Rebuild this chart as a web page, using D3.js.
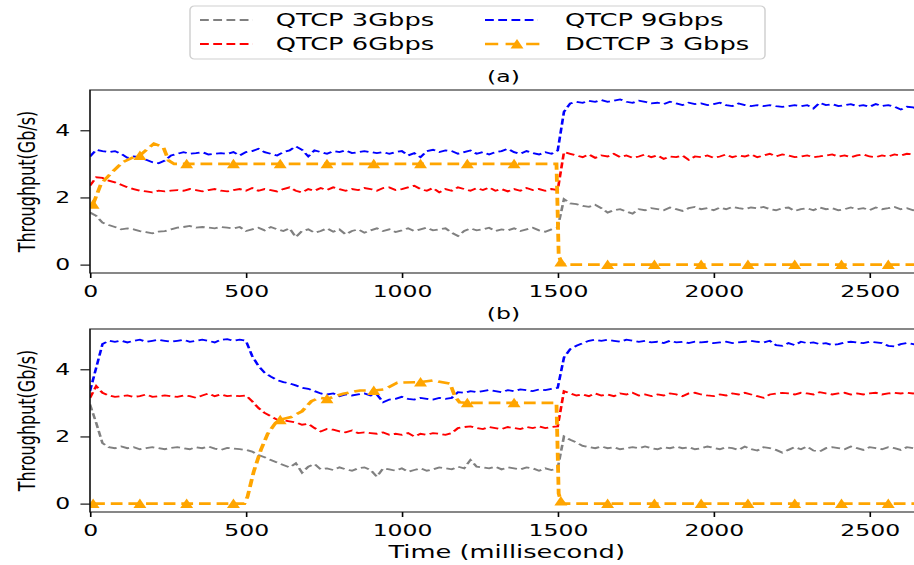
<!DOCTYPE html>
<html lang="en">
<head>
<meta charset="UTF-8">
<title>QTCP vs DCTCP throughput</title>
<style>
  body { margin: 0; background: #fff; }
  svg text { font-family: "DejaVu Sans", sans-serif; fill: #000; }
</style>
</head>
<body>
<div id="chart"></div>
<script src="https://d3js.org/d3.v7.min.js"></script>
<script>
// ---- data (throughput in Gb/s, QTCP sampled every 20 ms from 0 to 2660) ----
const sampleStep = 20;
const xTicks = [0, 500, 1000, 1500, 2000, 2500];
const yTicks = [0, 2, 4];
const seriesNames = ["QTCP 3Gbps", "QTCP 6Gbps", "QTCP 9Gbps", "DCTCP 3 Gbps"];
const seriesColors = ["#808080", "#ff0000", "#0000ff", "#ffa500"];

// panel (a)
const aGray = [
  1.55,1.45,1.25,1.18,1.12,1.05,1.08,1.05,1.00,0.97,
  0.93,0.98,1.00,1.05,1.10,1.12,1.15,1.10,1.12,1.10,
  1.08,1.12,1.10,1.08,1.12,1.00,1.05,1.10,1.02,1.12,
  1.05,1.00,1.08,0.82,1.00,1.05,0.95,1.00,1.08,0.98,
  1.05,0.90,1.00,1.05,0.95,1.02,1.08,1.00,1.05,0.97,
  1.02,1.08,1.00,1.05,1.10,1.02,1.05,1.08,0.95,0.85,
  1.00,1.08,1.02,1.05,1.10,1.00,1.05,1.02,1.08,1.00,
  1.05,1.10,1.02,0.98,1.05,1.10,1.95,1.82,1.80,1.75,
  1.72,1.78,1.68,1.55,1.62,1.65,1.58,1.52,1.65,1.62,
  1.68,1.65,1.62,1.70,1.65,1.60,1.68,1.72,1.65,1.68,
  1.62,1.70,1.65,1.72,1.68,1.65,1.70,1.68,1.72,1.65,
  1.62,1.68,1.70,1.60,1.65,1.68,1.62,1.70,1.65,1.68,
  1.62,1.65,1.70,1.65,1.68,1.62,1.70,1.65,1.68,1.72,
  1.65,1.68,1.62,1.65
];
const aRed = [
  2.35,2.60,2.58,2.50,2.45,2.38,2.30,2.25,2.20,2.18,
  2.15,2.20,2.18,2.20,2.22,2.20,2.25,2.22,2.18,2.22,
  2.25,2.20,2.18,2.22,2.25,2.20,2.28,2.20,2.25,2.22,
  2.18,2.25,2.30,2.20,2.15,2.25,2.20,2.28,2.22,2.30,
  2.25,2.20,2.25,2.22,2.28,2.25,2.20,2.28,2.30,2.22,
  2.25,2.30,2.35,2.25,2.20,2.28,2.15,2.25,2.20,2.30,
  2.25,2.20,2.28,2.22,2.30,2.20,2.25,2.18,2.25,2.20,
  2.28,2.22,2.25,2.20,2.25,2.22,3.35,3.30,3.25,3.20,
  3.28,3.18,3.25,3.22,3.30,3.20,3.25,3.18,3.22,3.28,
  3.20,3.25,3.15,3.22,3.20,3.25,3.12,3.22,3.20,3.25,
  3.18,3.22,3.28,3.20,3.25,3.22,3.28,3.20,3.25,3.30,
  3.22,3.28,3.25,3.20,3.22,3.25,3.20,3.22,3.25,3.28,
  3.22,3.25,3.20,3.25,3.28,3.22,3.20,3.25,3.22,3.28,
  3.25,3.30,3.28,3.30
];
const aBlue = [
  3.22,3.42,3.38,3.35,3.38,3.30,3.18,3.22,3.20,3.12,
  3.05,3.02,3.10,3.25,3.30,3.35,3.30,3.32,3.35,3.28,
  3.30,3.32,3.30,3.35,3.25,3.35,3.38,3.45,3.35,3.30,
  3.25,3.35,3.40,3.52,3.42,3.22,3.40,3.35,3.30,3.38,
  3.35,3.40,3.32,3.35,3.38,3.35,3.32,3.35,3.30,3.35,
  3.38,3.25,3.32,3.20,3.38,3.42,3.35,3.40,3.38,3.30,
  3.35,3.40,3.30,3.35,3.28,3.35,3.38,3.45,3.35,3.30,
  3.38,3.32,3.28,3.35,3.30,3.40,4.55,4.80,4.85,4.82,
  4.88,4.85,4.90,4.85,4.88,4.92,4.85,4.82,4.88,4.85,
  4.80,4.82,4.78,4.85,4.80,4.75,4.82,4.78,4.80,4.75,
  4.78,4.82,4.75,4.72,4.80,4.75,4.72,4.75,4.72,4.75,
  4.72,4.70,4.72,4.75,4.72,4.75,4.65,4.82,4.75,4.78,
  4.72,4.75,4.78,4.72,4.75,4.70,4.78,4.72,4.75,4.70,
  4.62,4.70,4.68,4.62
];
const aDcTime = [10, 35, 65, 105, 140, 160, 185, 205, 235, 252, 270, 310, 460, 610, 760, 910, 1060, 1210, 1360,
  1496, 1503, 1510, 1522, 1660, 1810, 1960, 2110, 2260, 2410, 2560, 2680];
const aDcVal = [1.80, 2.40, 2.70, 3.05, 3.20, 3.25, 3.45, 3.60, 3.50, 3.10, 3.00, 3.00, 3.00, 3.00, 3.00, 3.00, 3.00, 3.00, 3.00,
  3.00, 0.30, 0.08, 0.00, 0.00, 0.00, 0.00, 0.00, 0.00, 0.00, 0.00, 0.00];
const aDcMarks = [0, 5, 11, 12, 13, 14, 15, 16, 17, 18, 21, 23, 24, 25, 26, 27, 28, 29];

// panel (b)
const bGray = [
  2.95,2.40,1.80,1.68,1.65,1.70,1.65,1.68,1.62,1.65,
  1.68,1.65,1.62,1.66,1.68,1.65,1.62,1.68,1.65,1.70,
  1.64,1.60,1.66,1.64,1.62,1.60,1.55,1.45,1.38,1.30,
  1.22,1.15,1.08,1.20,0.92,1.10,1.18,1.02,1.05,1.00,
  1.08,1.02,0.98,1.05,1.08,1.00,0.80,1.05,1.02,0.98,
  1.05,0.95,1.00,1.05,0.98,1.02,1.08,1.05,1.02,1.10,
  1.05,1.30,1.10,1.08,1.05,1.10,1.02,1.08,1.05,1.02,
  1.08,1.05,0.98,1.05,1.00,1.05,2.00,1.90,1.82,1.72,
  1.68,1.65,1.70,1.65,1.68,1.62,1.65,1.68,1.65,1.70,
  1.65,1.62,1.68,1.65,1.70,1.65,1.68,1.62,1.65,1.70,
  1.66,1.62,1.68,1.65,1.60,1.70,1.62,1.58,1.68,1.65,
  1.60,1.52,1.60,1.68,1.62,1.70,1.58,1.55,1.65,1.68,
  1.65,1.62,1.70,1.65,1.60,1.68,1.65,1.62,1.68,1.65,
  1.60,1.68,1.65,1.62
];
const bRed = [
  3.15,3.50,3.30,3.22,3.18,3.20,3.22,3.18,3.20,3.25,
  3.18,3.20,3.22,3.20,3.18,3.22,3.20,3.15,3.22,3.28,
  3.20,3.25,3.20,3.22,3.20,3.22,3.05,2.85,2.70,2.60,
  2.50,2.48,2.45,2.42,2.35,2.38,2.25,2.15,2.22,2.20,
  2.15,2.12,2.18,2.10,2.12,2.10,2.08,2.12,2.05,2.08,
  2.05,2.10,2.00,2.08,2.05,2.10,2.08,2.05,2.10,2.25,
  2.28,2.30,2.25,2.22,2.28,2.25,2.22,2.28,2.25,2.22,
  2.28,2.25,2.30,2.25,2.28,2.30,3.35,3.28,3.22,3.25,
  3.20,3.28,3.22,3.25,3.20,3.28,3.25,3.30,3.22,3.25,
  3.20,3.25,3.22,3.28,3.25,3.20,3.28,3.30,3.25,3.22,
  3.20,3.25,3.22,3.28,3.25,3.30,3.25,3.20,3.15,3.25,
  3.28,3.30,3.28,3.25,3.30,3.28,3.25,3.32,3.28,3.25,
  3.28,3.30,3.25,3.28,3.25,3.28,3.30,3.25,3.28,3.30,
  3.28,3.30,3.28,3.30
];
const bBlue = [
  3.35,4.05,4.75,4.85,4.82,4.85,4.80,4.85,4.88,4.82,
  4.85,4.88,4.85,4.82,4.85,4.88,4.82,4.85,4.88,4.85,
  4.80,4.88,4.90,4.85,4.88,4.85,4.40,4.10,3.90,3.78,
  3.68,3.62,3.58,3.52,3.45,3.42,3.35,3.28,3.25,3.28,
  3.20,3.25,3.22,3.25,3.28,3.22,3.25,3.02,3.10,3.12,
  3.18,3.12,3.10,3.15,3.12,3.10,3.15,3.12,3.15,3.32,
  3.30,3.35,3.32,3.35,3.38,3.35,3.32,3.38,3.35,3.40,
  3.38,3.35,3.40,3.38,3.42,3.45,4.35,4.60,4.70,4.78,
  4.85,4.88,4.85,4.88,4.85,4.82,4.88,4.85,4.82,4.85,
  4.80,4.82,4.78,4.85,4.80,4.82,4.78,4.82,4.80,4.82,
  4.78,4.80,4.82,4.78,4.80,4.82,4.85,4.82,4.80,4.85,
  4.72,4.70,4.78,4.72,4.82,4.78,4.80,4.75,4.78,4.72,
  4.75,4.80,4.82,4.80,4.78,4.82,4.80,4.78,4.70,4.68,
  4.75,4.78,4.75,4.72
];
const bDcTime = [10, 160, 310, 460, 495, 505, 525, 548, 570, 595, 610, 645, 680, 710, 735, 760, 812, 866, 910, 945, 985,
  1060, 1100, 1155, 1170, 1185, 1210, 1360, 1496, 1503, 1510, 1522, 1660, 1810, 1960, 2110, 2260, 2410, 2560, 2680];
const bDcVal = [0.00, 0.00, 0.00, 0.00, 0.00, 0.20, 0.95, 1.60, 2.08, 2.40, 2.50, 2.58, 2.75, 3.05, 3.15, 3.12, 3.27, 3.37, 3.37, 3.40, 3.60,
  3.62, 3.67, 3.57, 3.20, 3.02, 3.00, 3.00, 3.00, 0.30, 0.08, 0.00, 0.00, 0.00, 0.00, 0.00, 0.00, 0.00, 0.00, 0.00];
const bDcMarks = [0, 1, 2, 3, 10, 15, 18, 21, 26, 27, 30, 32, 33, 34, 35, 36, 37, 38];

// ---- layout ----
// the reference picture is stretched sideways, so everything is drawn in a
// narrower space and scaled back out horizontally
const S = 1.47;
const vx = px => px / S;
const W = 914, H = 565;
const plotLeft = 90, plotRight = 921;

const panels = [
  { top: 90, bottom: 273, tag: "(a)", tagY: 76,
    gray: aGray, red: aRed, blue: aBlue, dcT: aDcTime, dcV: aDcVal, dcM: aDcMarks },
  { top: 329, bottom: 512, tag: "(b)", tagY: 313,
    gray: bGray, red: bRed, blue: bBlue, dcT: bDcTime, dcV: bDcVal, dcM: bDcMarks }
];

const svg = d3.select("#chart").append("svg")
  .attr("width", W).attr("height", H);
const root = svg.append("g").attr("transform", `scale(${S},1)`);

const x = d3.scaleLinear().domain([0, 2665]).range([vx(plotLeft), vx(plotRight)]);
const tri = "M0,-5 L4.4,4.5 L-4.4,4.5 Z";

panels.forEach((p, pi) => {
  const y = d3.scaleLinear().domain([-0.25, 5.2]).range([p.bottom, p.top]);
  const g = root.append("g");

  g.append("clipPath").attr("id", "clip" + pi)
    .append("rect")
      .attr("x", x(0)).attr("y", p.top)
      .attr("width", x(2665) - x(0)).attr("height", p.bottom - p.top);

  // axes
  const xa = g.append("g")
    .attr("transform", `translate(0,${p.bottom})`)
    .call(d3.axisBottom(x).tickValues(xTicks).tickFormat(d3.format("d"))
      .tickSize(5).tickPadding(8));
  const ya = g.append("g")
    .attr("transform", `translate(${x(0)},0)`)
    .call(d3.axisLeft(y).tickValues(yTicks).tickFormat(d3.format("d"))
      .tickSize(6.5).tickPadding(7));
  [xa, ya].forEach(a => {
    a.select(".domain").remove();
    a.selectAll("line").attr("stroke", "#000").attr("stroke-width", 1.1);
    a.selectAll("text").attr("font-size", 16).attr("fill", "#111");
  });

  // y label
  g.append("text")
    .attr("transform", `translate(${vx(26.5)},${(p.top + p.bottom) / 2}) rotate(-90)`)
    .attr("text-anchor", "middle").attr("dy", "0.35em")
    .attr("font-size", 16)
    .text("Throughput(Gb/s)");

  // panel tag
  g.append("text")
    .attr("x", vx(503.5)).attr("y", p.tagY).attr("dy", "0.35em")
    .attr("text-anchor", "middle").attr("font-size", 16)
    .text(p.tag);

  // lines
  const plot = g.append("g").attr("clip-path", `url(#clip${pi})`);
  const line = d3.line().x(d => x(d[0])).y(d => y(d[1]));
  [p.gray, p.red, p.blue].forEach((vals, si) => {
    const pts = vals.map((v, i) => [i * sampleStep, v]);
    plot.append("path")
      .attr("d", line(pts))
      .attr("fill", "none")
      .attr("stroke", seriesColors[si])
      .attr("stroke-width", 1.8)
      .attr("stroke-dasharray", "6,3");
  });

  const dcPts = p.dcT.map((t, i) => [t, p.dcV[i]]);
  plot.append("path")
    .attr("d", line(dcPts))
    .attr("fill", "none")
    .attr("stroke", seriesColors[3])
    .attr("stroke-width", 2.6)
    .attr("stroke-dasharray", "8,4");
  plot.selectAll(".mk")
    .data(p.dcM.map(i => dcPts[i]))
    .join("path")
      .attr("class", "mk")
      .attr("d", tri)
      .attr("transform", d => `translate(${x(d[0])},${y(d[1])})`)
      .attr("fill", seriesColors[3]);

  // frame
  g.append("path")
    .attr("d", `M${x(2665)},${p.top} H${x(0)} V${p.bottom} H${x(2665)}`)
    .attr("fill", "none").attr("stroke", "#111").attr("stroke-width", 1.1);
});

// x label
root.append("text")
  .attr("x", vx(506.7)).attr("y", 552).attr("dy", "0.35em")
  .attr("text-anchor", "middle").attr("font-size", 17.5)
  .text("Time (millisecond)");

// ---- legend ----
const legend = root.append("g");
legend.append("rect")
  .attr("x", vx(190)).attr("y", 6)
  .attr("width", vx(765) - vx(190)).attr("height", 53)
  .attr("rx", 3).attr("ry", 4)
  .attr("fill", "#fff").attr("stroke", "#d0d0d0").attr("stroke-width", 1);

const legendItems = [
  { hx: 200, tx: 275.7, y: 20 },
  { hx: 200, tx: 275.7, y: 44 },
  { hx: 485, tx: 565, y: 20 },
  { hx: 485, tx: 565, y: 44 }
];
legendItems.forEach((it, i) => {
  const isDc = i === 3;
  legend.append("line")
    .attr("x1", vx(it.hx)).attr("x2", vx(it.hx + (isDc ? 58 : 53)))
    .attr("y1", it.y).attr("y2", it.y)
    .attr("stroke", seriesColors[i])
    .attr("stroke-width", isDc ? 2.6 : 1.8)
    .attr("stroke-dasharray", isDc ? "9,5" : "6,3");
  if (isDc) {
    legend.append("path")
      .attr("d", tri)
      .attr("transform", `translate(${vx(it.hx + 32)},${it.y})`)
      .attr("fill", seriesColors[3]);
  }
  legend.append("text")
    .attr("x", vx(it.tx)).attr("y", it.y).attr("dy", "0.35em")
    .attr("font-size", 17.5).attr("fill", "#222")
    .text(seriesNames[i]);
});
</script>
</body>
</html>
